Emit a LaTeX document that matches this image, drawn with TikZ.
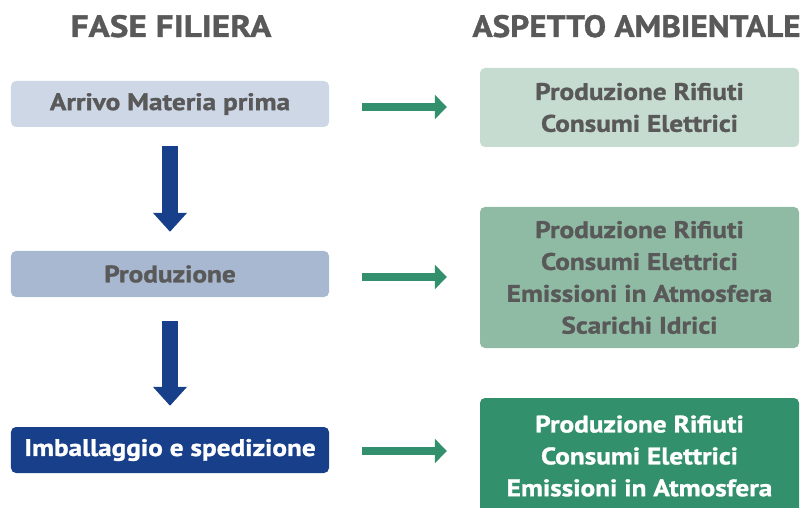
\documentclass[tikz,border=0pt]{standalone}
\usepackage{fontspec}
\setmainfont{PT Sans}[BoldFeatures={FakeStretch=1.14,FakeBold=1.2}]
\usetikzlibrary{arrows.meta,calc}
\definecolor{txtgray}{HTML}{595959}
\definecolor{bluea}{HTML}{CDD7E6}
\definecolor{blueb}{HTML}{A8B8D1}
\definecolor{bluec}{HTML}{173F8A}
\definecolor{greena}{HTML}{C6DCD1}
\definecolor{greenb}{HTML}{8FBBA4}
\definecolor{greenc}{HTML}{32906C}
\tikzset{
  header/.style={font=\fontsize{31}{31}\selectfont\bfseries, text=txtgray, inner sep=0pt, anchor=base},
  phase/.style={rectangle, rounded corners=5bp, minimum width=318bp, minimum height=46bp,
    font=\fontsize{24}{24}\selectfont\bfseries, text=txtgray, inner sep=0pt},
  aspect/.style={rectangle, rounded corners=5bp, minimum width=319bp, inner sep=0pt, align=center,
    font=\fontsize{24}{32}\selectfont\bfseries, text=txtgray},
  downarrow/.style={draw=bluec, line width=16bp, -{Triangle[width=33bp,length=19bp]}},
  rightarrow/.style={draw=greenc, line width=8bp, -{Triangle[width=24bp,length=12bp]}},
}
\begin{document}
\begin{tikzpicture}[x=1bp,y=-1bp]
\useasboundingbox (0,0) rectangle (805,508);
\clip (0,0) rectangle (805,508);
\node[header] (h1) at (171,37) {FASE FILIERA};
\node[header] (h2) at (636.5,37) {\scalebox{0.945}[1]{ASPETTO AMBIENTALE}};

\node[phase, fill=bluea] (a1) at (170,104) {Arrivo Materia prima};
\node[phase, fill=blueb] (a2) at (170,274) {Produzione};
\node[phase, fill=bluec, text=white] (a3) at (170,450) {Imballaggio e spedizione};

\node[aspect, fill=greena, minimum height=79bp] (g1) at (639.5,107.5) {Produzione Rifiuti\\Consumi Elettrici};
\node[aspect, fill=greenb, minimum height=141bp] (g2) at (639.5,277.5) {Produzione Rifiuti\\Consumi Elettrici\\Emissioni in Atmosfera\\Scarichi Idrici};
\node[aspect, fill=greenc, text=white, minimum height=116bp] (g3) at (639.5,456) {Produzione Rifiuti\\Consumi Elettrici\\Emissioni in Atmosfera};

\draw[downarrow] ([yshift=-19bp]a1.south) -- ([yshift=19bp]a2.north);
\draw[downarrow] ([yshift=-24bp]a2.south) -- ([yshift=21bp]a3.north);

\coordinate (s1) at ([xshift=33bp,yshift=-3bp]a1.east);
\coordinate (s2) at ([xshift=33bp,yshift=-3bp]a2.east);
\coordinate (s3) at ([xshift=33bp,yshift=-1bp]a3.east);
\draw[rightarrow] (s1) -- ([xshift=-33bp]s1 -| g1.west);
\draw[rightarrow] (s2) -- ([xshift=-33bp]s2 -| g2.west);
\draw[rightarrow] (s3) -- ([xshift=-33bp]s3 -| g3.west);
\end{tikzpicture}
\end{document}
